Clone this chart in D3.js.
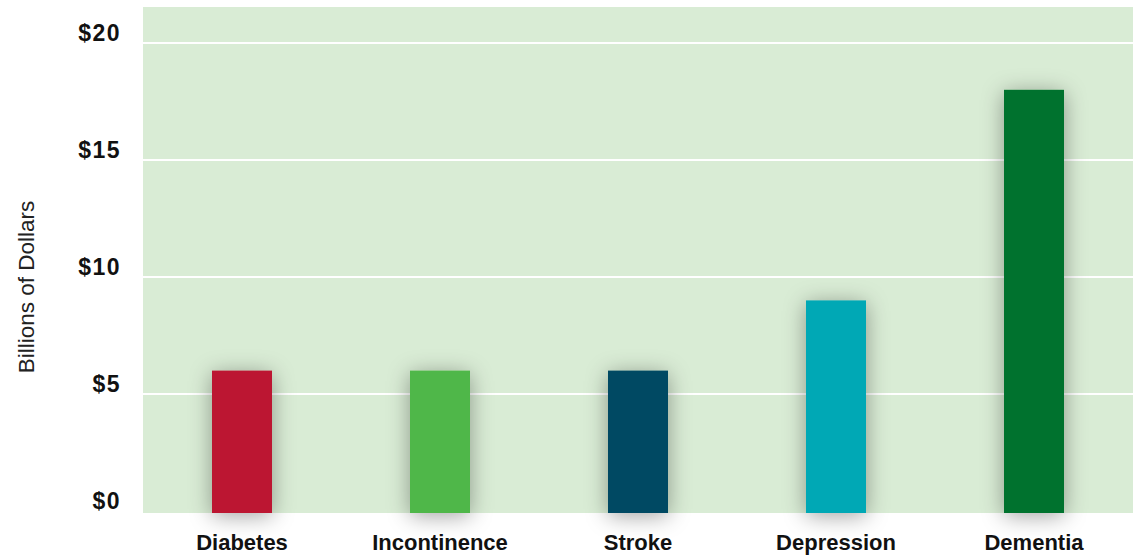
<!DOCTYPE html>
<html>
<head>
<meta charset="utf-8">
<script src="https://cdn.jsdelivr.net/npm/d3@7"></script>
<style>
  html, body { margin: 0; padding: 0; background: #fff; }
  svg { display: block; }
</style>
</head>
<body>
<div id="chart"></div>
<script>
const categories = ["Diabetes", "Incontinence", "Stroke", "Depression", "Dementia"];
const values = [6, 6, 6, 9, 18];
const colors = ["#BC1833", "#50B748", "#004A63", "#00A8B5", "#00722F"];
const yTicks = [0, 5, 10, 15, 20];
const yTickLabels = ["$0", "$5", "$10", "$15", "$20"];
const yTitle = "Billions of Dollars";

const W = 1133, H = 556;
const plot = { left: 143, right: 1133, top: 7, bottom: 513 };

const svg = d3.select("#chart").append("svg").attr("width", W).attr("height", H);

const defs = svg.append("defs");
const f = defs.append("filter").attr("id", "shadow")
  .attr("x", "-100%").attr("y", "-100%").attr("width", "300%").attr("height", "300%");
f.append("feDropShadow").attr("dx", 0).attr("dy", 3).attr("stdDeviation", 11)
  .attr("flood-color", "#000").attr("flood-opacity", 0.36);

const x = d3.scaleBand().domain(categories).range([plot.left, plot.right]).paddingInner(0).paddingOuter(0);
const y = d3.scaleLinear().domain([0, 20]).range([511, 43]);

// background
svg.append("rect").attr("x", plot.left).attr("y", plot.top)
  .attr("width", plot.right - plot.left).attr("height", plot.bottom - plot.top)
  .attr("fill", "#D9ECD5");

// gridlines
svg.append("g").selectAll("line").data(yTicks.filter(d => d > 0)).join("line")
  .attr("x1", plot.left).attr("x2", plot.right)
  .attr("y1", d => y(d)).attr("y2", d => y(d))
  .attr("stroke", "#fff").attr("stroke-width", 2);

// y axis labels
const yAxis = d3.axisLeft(y).tickValues(yTicks).tickFormat((d, i) => yTickLabels[i]).tickSize(0).tickPadding(0);
const ya = svg.append("g").attr("transform", `translate(121,0)`).call(yAxis);
ya.select(".domain").remove();
ya.selectAll("text")
  .attr("dy", "-0.12em")
  .attr("y", 0)
  .style("font-family", "'Liberation Sans', Arial, sans-serif")
  .style("font-size", "23px").style("font-weight", "bold")
  .style("letter-spacing", "1.5px")
  .attr("fill", "#111");

// bars
const barW = 60;
svg.append("g").selectAll("rect").data(categories).join("rect")
  .attr("x", d => x(d) + x.bandwidth() / 2 - barW / 2)
  .attr("width", barW)
  .attr("y", (d, i) => y(values[i]))
  .attr("height", (d, i) => plot.bottom - y(values[i]))
  .attr("fill", (d, i) => colors[i])
  .attr("filter", "url(#shadow)");

// x axis labels
const xAxis = d3.axisBottom(x).tickSize(0).tickPadding(0);
const xa = svg.append("g").attr("transform", `translate(0,550)`).call(xAxis);
xa.select(".domain").remove();
xa.selectAll("text")
  .attr("y", 0).attr("dy", 0)
  .style("font-family", "'Liberation Sans', Arial, sans-serif")
  .style("font-size", "22px").style("font-weight", "bold")
  .attr("fill", "#111");

// y title
svg.append("text")
  .attr("transform", `translate(34,287) rotate(-90)`)
  .attr("text-anchor", "middle")
  .style("font-family", "'Liberation Sans', Arial, sans-serif")
  .style("font-size", "22.5px")
  .attr("fill", "#222")
  .text(yTitle);
</script>
</body>
</html>
